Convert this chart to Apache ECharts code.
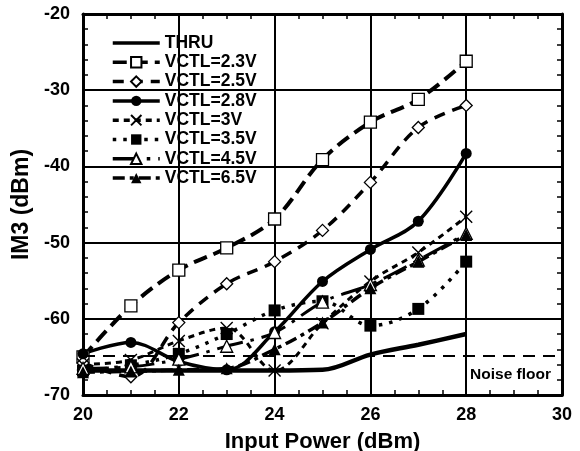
<!DOCTYPE html>
<html><head><meta charset="utf-8">
<script src="https://cdn.jsdelivr.net/npm/echarts@6/dist/echarts.min.js"></script>
<style>html,body{margin:0;padding:0;background:#fff}#c{width:580px;height:451px}</style>
</head><body><div id="c"></div>
<script>
const inputPower = [20, 21, 22, 23, 24, 25, 26, 27, 28];
const thru = [-66.8, -66.8, -66.8, -66.8, -66.8, -66.7, -64.7, -63.4, -62.0];
const v23 = [-65.0, -58.3, -53.6, -50.7, -46.9, -39.1, -34.2, -31.2, -26.2];
const v25 = [-65.8, -67.6, -60.5, -55.4, -52.5, -48.4, -42.1, -34.9, -32.0];
const v28 = [-64.6, -63.1, -65.6, -66.7, -61.7, -55.1, -50.9, -47.2, -38.3];
const v3 = [-66.0, -65.4, -62.9, -61.2, -66.8, -60.6, -55.1, -51.3, -46.6];
const v35 = [-66.8, -66.1, -64.6, -62.0, -58.9, -57.7, -60.9, -58.7, -52.5];
const v45 = [-66.5, -66.3, -65.3, -63.6, -61.8, -57.8, -55.5, -52.3, -48.8];
const v65 = [-67.0, -66.9, -66.7, -66.5, -64.0, -60.5, -56.0, -52.5, -49.0];
const seriesNames = ['THRU', 'VCTL=2.3V', 'VCTL=2.5V', 'VCTL=2.8V', 'VCTL=3V', 'VCTL=3.5V', 'VCTL=4.5V', 'VCTL=6.5V'];
const noiseFloor = -64.8;
const noiseLabel = 'Noise floor';
const xTicks = [20, 22, 24, 26, 28, 30];
const yTicks = [-70, -60, -50, -40, -30, -20];

const FONT = '"Liberation Sans", Arial, Helvetica, sans-serif';
const pts = (vals) => inputPower.map((x, i) => [x, vals[i]]);
const crossPath = 'path://M0,0L10,10M10,0L0,10';

function mk(name, vals, dash, width, symbol, size, filled) {
  return {
    name: name, type: 'line', data: pts(vals), smooth: 0.35,
    symbol: symbol, symbolSize: size, showSymbol: symbol !== 'none',
    lineStyle: { color: '#000', width: width, type: dash, cap: 'butt' },
    itemStyle: symbol === crossPath
      ? { color: 'rgba(0,0,0,0)', borderColor: '#000', borderWidth: 1.4 }
      : { color: filled ? '#000' : '#fff', borderColor: '#000', borderWidth: filled ? 0 : 1.3 },
    emphasis: { disabled: true }, z: 3, clip: true
  };
}

const series = [
  mk(seriesNames[0], thru, 'solid', 4.5, 'none', 0, true),
  mk(seriesNames[1], v23, [14, 7], 4, 'rect', 12, false),
  mk(seriesNames[2], v25, [11, 8], 3.5, 'diamond', 12, false),
  mk(seriesNames[3], v28, 'solid', 3.5, 'circle', 11, true),
  mk(seriesNames[4], v3, [6, 5], 3, crossPath, 12, false),
  mk(seriesNames[5], v35, [3.5, 7], 3.5, 'rect', 12, true),
  mk(seriesNames[6], v45, [26, 8, 3.5, 8], 3, 'triangle', 12, false),
  mk(seriesNames[7], v65, [12, 5, 4, 5], 3.5, 'triangle', 12, true)
];
series.push({
  type: 'line', data: [], silent: true,
  markLine: {
    silent: true, symbol: ['none', 'none'],
    lineStyle: { color: '#000', width: 2, type: [12, 8] },
    label: { show: true, position: 'insideEndBottom', formatter: noiseLabel, color: '#000',
      fontFamily: FONT, fontWeight: 'bold', fontSize: 15.5, distance: 11 },
    data: [{ yAxis: noiseFloor }]
  }
});

const axisCommon = {
  axisLine: { show: true, onZero: false, lineStyle: { color: '#000', width: 3 } },
  axisTick: { show: true, inside: true, length: 6, lineStyle: { color: '#000', width: 1.5 } },
  minorTick: { show: true, length: 5, lineStyle: { color: '#000', width: 1.5 } },
  splitLine: { show: false },
};

const legendData = seriesNames.map((n, i) => i === 0
  ? { name: n, itemStyle: { color: 'rgba(0,0,0,0)', borderColor: 'rgba(0,0,0,0)', borderWidth: 0 } }
  : { name: n });

const chart = echarts.init(document.getElementById('c'), null, { renderer: 'canvas' });
chart.setOption({
  animation: false,
  backgroundColor: '#fff',
  grid: { left: 83, right: 18, top: 14, bottom: 56, containLabel: false, outerBoundsMode: 'none' },
  legend: {
    data: legendData, orient: 'vertical', left: 106, top: 29,
    itemWidth: 47, itemHeight: 13, itemGap: 1.3, selectedMode: false,
    lineStyle: { width: 3.5 },
    textStyle: { color: '#000', fontFamily: FONT, fontWeight: 'bold', fontSize: 17.5 }
  },
  xAxis: [
    Object.assign({}, axisCommon, {
      type: 'value', min: xTicks[0], max: xTicks[xTicks.length - 1], interval: 2, position: 'bottom',
      minorTick: Object.assign({}, axisCommon.minorTick, { splitNumber: 4 }),
      splitLine: { show: true, lineStyle: { color: '#000', width: 2 } },
      axisLabel: { color: '#000', fontFamily: FONT, fontWeight: 'bold', fontSize: 18, margin: 11 },
      name: 'Input Power (dBm)', nameLocation: 'middle', nameGap: 36,
      nameTextStyle: { color: '#000', fontFamily: FONT, fontWeight: 'bold', fontSize: 22 }
    }),
    Object.assign({}, axisCommon, {
      type: 'value', min: xTicks[0], max: xTicks[xTicks.length - 1], interval: 2, position: 'top',
      minorTick: Object.assign({}, axisCommon.minorTick, { splitNumber: 4 }),
      axisLabel: { show: false }
    })
  ],
  yAxis: [
    Object.assign({}, axisCommon, {
      type: 'value', min: yTicks[0], max: yTicks[yTicks.length - 1], interval: 10, position: 'left',
      minorTick: Object.assign({}, axisCommon.minorTick, { splitNumber: 5 }),
      splitLine: { show: true, lineStyle: { color: '#000', width: 2 } },
      axisLabel: { color: '#000', fontFamily: FONT, fontWeight: 'bold', fontSize: 18, margin: 13 },
      name: 'IM3 (dBm)', nameLocation: 'middle', nameGap: 42,
      nameTextStyle: { color: '#000', fontFamily: FONT, fontWeight: 'bold', fontSize: 23 }
    }),
    Object.assign({}, axisCommon, {
      type: 'value', min: yTicks[0], max: yTicks[yTicks.length - 1], interval: 10, position: 'right',
      minorTick: Object.assign({}, axisCommon.minorTick, { splitNumber: 5 }),
      axisLabel: { show: false }
    })
  ],
  series: series
});
</script>
</body></html>
